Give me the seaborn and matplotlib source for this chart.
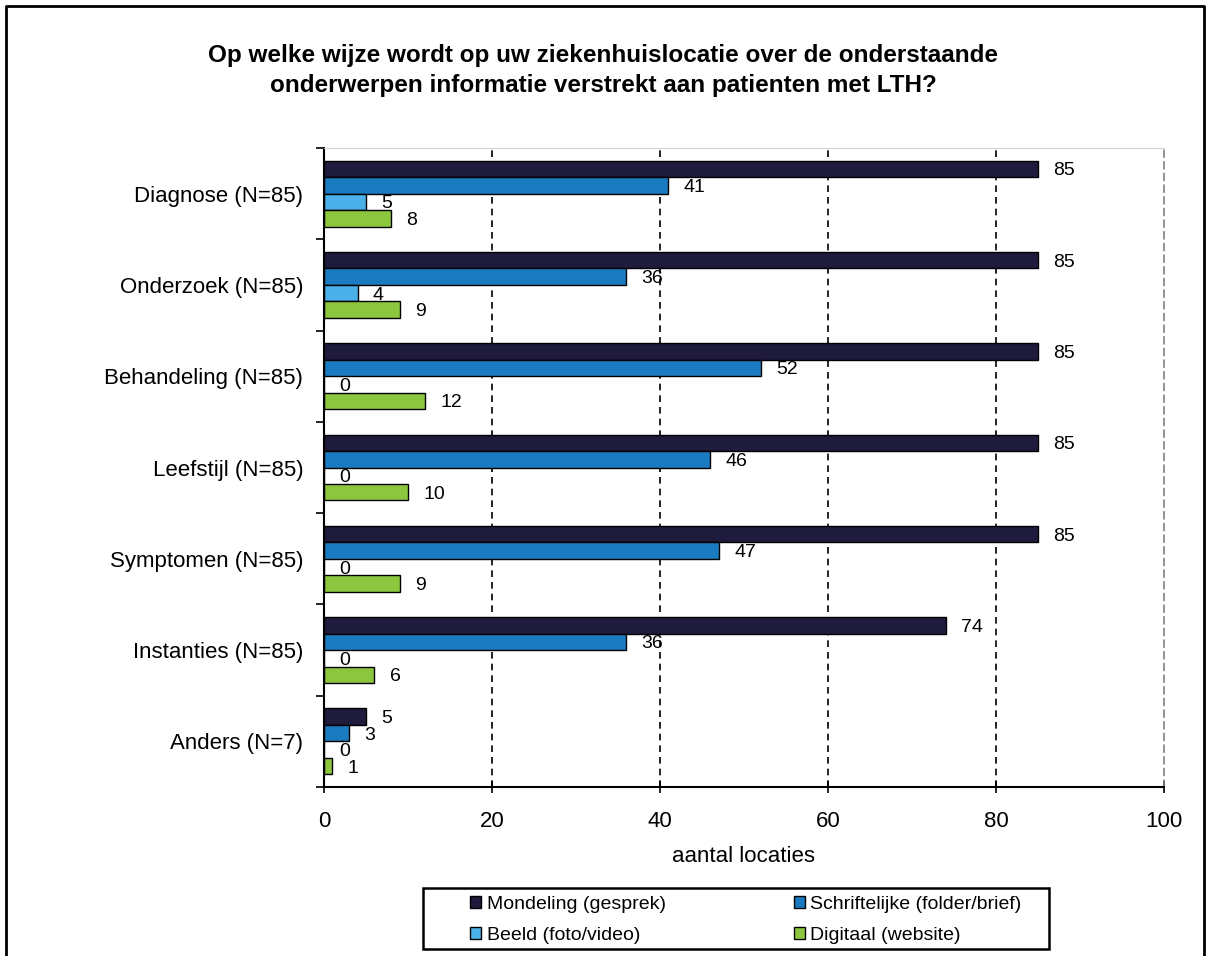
import numpy as np
import pandas as pd
import matplotlib
matplotlib.use("Agg")
import matplotlib.pyplot as plt
from matplotlib.patches import Patch, Rectangle
from matplotlib.lines import Line2D
import seaborn as sb

### Data
categories = ["Diagnose (N=85)", "Onderzoek (N=85)", "Behandeling (N=85)",
              "Leefstijl (N=85)", "Symptomen (N=85)", "Instanties (N=85)",
              "Anders (N=7)"]
methods = ["Mondeling (gesprek)", "Schriftelijke (folder/brief)",
           "Beeld (foto/video)", "Digitaal (website)"]
mondeling = [85, 85, 85, 85, 85, 74, 5]
schriftelijk = [41, 36, 52, 46, 47, 36, 3]
beeld = [5, 4, 0, 0, 0, 0, 0]
digitaal = [8, 9, 12, 10, 9, 6, 1]
x_ticks = [0, 20, 40, 60, 80, 100]

colors = ["#1f1b3c", "#1b7bc0", "#4ab1e8", "#8cc63f"]

title = ("Op welke wijze wordt op uw ziekenhuislocatie over de onderstaande\n"
         "onderwerpen informatie verstrekt aan patienten met LTH?")

### Long format table for seaborn
rows = []
for method, values in zip(methods, [mondeling, schriftelijk, beeld, digitaal]):
    for cat, val in zip(categories, values):
        rows.append({"categorie": cat, "methode": method, "aantal": val})
df = pd.DataFrame(rows)

sb.set_style("white")
plt.rcParams["font.family"] = ["Liberation Sans", "DejaVu Sans"]
plt.rcParams["text.color"] = "black"
plt.rcParams["axes.labelcolor"] = "black"
plt.rcParams["xtick.color"] = "black"
plt.rcParams["ytick.color"] = "black"

W, H = 1206, 956
fig = plt.figure(figsize=(W / 100, H / 100), dpi=100)
ax = fig.add_axes([324 / W, 1 - 787 / H, (1164 - 324) / W, (787 - 148) / H])

sb.barplot(data=df, y="categorie", x="aantal", hue="methode", order=categories,
           hue_order=methods, palette=colors, saturation=1, orient="h", width=0.72,
           edgecolor="black", linewidth=1, errorbar=None, legend=False, ax=ax)

for container in ax.containers:
    labels = ax.bar_label(container, padding=11, fontsize=14, color="black")
    for lab in labels:
        lab.set_verticalalignment("center_baseline")

ax.set_xlim(0, 100)
ax.set_ylim(len(categories) - 0.5, -0.5)
ax.set_xticks(x_ticks)
ax.set_xticklabels([str(t) for t in x_ticks], fontsize=16)
ax.tick_params(axis="x", direction="inout", length=8, width=1.2, pad=13,
               colors="black", bottom=True)
ax.set_yticks(range(len(categories)))
ax.set_yticklabels(categories, fontsize=16)
ax.tick_params(axis="y", length=0, pad=15)
ax.set_yticks(np.arange(-0.5, len(categories), 1), minor=True)
ax.tick_params(axis="y", which="minor", direction="out", length=6, width=1.2,
               left=True, color="black")
ax.set_ylabel("")
ax.set_xlabel("aantal locaties", fontsize=16, labelpad=10)

# dashed vertical grid
for t in x_ticks[1:-1]:
    ax.axvline(t, color="black", linestyle=(0, (4, 3)), linewidth=1.2, zorder=0)

ax.spines["left"].set_color("black")
ax.spines["left"].set_linewidth(1.5)
ax.spines["bottom"].set_color("black")
ax.spines["bottom"].set_linewidth(1.5)
ax.spines["top"].set_color("#d4d4d4")
ax.spines["right"].set_color("#808080")
ax.spines["right"].set_linestyle((0, (4, 3)))
ax.spines["right"].set_linewidth(1.2)

fig.text(0.5, 1 - 70.5 / H, title, ha="center", va="center", fontsize=17.5,
         fontweight="bold", linespacing=1.38)

# legend box and entries
fig.add_artist(Rectangle((423 / W, 1 - 949 / H), (1049 - 423) / W, (949 - 888) / H,
                         transform=fig.transFigure, fill=False, edgecolor="black",
                         linewidth=1.8))
handles = [Patch(facecolor=c, edgecolor="black", linewidth=1) for c in colors]
order = [0, 2, 1, 3]
fig.legend([handles[i] for i in order], [methods[i] for i in order],
           loc="upper left", bbox_to_anchor=(470 / W, 1 - 896 / H), ncol=2,
           frameon=False, fontsize=14, handlelength=0.55, handleheight=0.55,
           handletextpad=0.3, columnspacing=6.6, labelspacing=0.7, borderpad=0,
           borderaxespad=0)

# outer border of the chart
fig.add_artist(Line2D([6 / W, 6 / W, 1204 / W, 1204 / W], [0, 1 - 6 / H, 1 - 6 / H, 0],
                      transform=fig.transFigure, color="black", linewidth=2))

fig.savefig("out.png", dpi=100)
